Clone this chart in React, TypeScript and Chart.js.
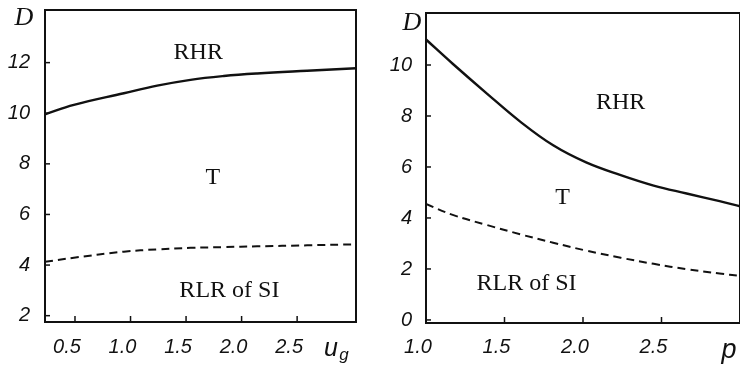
import React, { useEffect, useRef } from 'react';
import { Chart, registerables } from 'chart.js';

Chart.register(...registerables);

// ---------- data: left panel (D vs u_g) ----------
const uG = [0.23, 0.49, 0.94, 1.24, 1.54, 1.84, 2.14, 2.59, 3.03];
const dUpperLeft = [9.96, 10.33, 10.79, 11.09, 11.32, 11.47, 11.57, 11.68, 11.78];
const dLowerLeft = [4.13, 4.29, 4.53, 4.62, 4.68, 4.71, 4.74, 4.78, 4.82];
const leftXTicks = [0.5, 1.0, 1.5, 2.0, 2.5];
const leftYTicks = [2, 4, 6, 8, 10, 12];

// ---------- data: right panel (D vs p) ----------
const pVals = [1.0, 1.17, 1.39, 1.6, 1.81, 2.02, 2.24, 2.45, 2.66, 2.87, 3.0];
const dUpperRight = [11.0, 10.05, 8.87, 7.78, 6.85, 6.18, 5.68, 5.27, 4.96, 4.66, 4.46];
const dLowerRight = [4.55, 4.12, 3.72, 3.36, 3.03, 2.72, 2.44, 2.2, 1.99, 1.82, 1.73];
const rightXTicks = [1.0, 1.5, 2.0, 2.5];
const rightYTicks = [0, 2, 4, 6, 8, 10];

// region labels (data coordinates)
const leftRegions = [
  { text: 'RHR', x: 1.61, y: 12.38 },
  { text: 'T', x: 1.74, y: 7.44 },
  { text: 'RLR of SI', x: 1.89, y: 2.98 },
];
const rightRegions = [
  { text: 'RHR', x: 2.24, y: 8.51 },
  { text: 'T', x: 1.87, y: 4.8 },
  { text: 'RLR of SI', x: 1.64, y: 1.41 },
];

const INK = '#111111';
const TICK_FONT = { family: 'Liberation Sans', size: 20, style: 'italic' as const };

type Region = { text: string; x: number; y: number };
type Extra = { text: string; dx: number; dy: number; font: string; from: 'lt' | 'rb' | 'lb' };

function makeDecor(regions: Region[], extras: Extra[]) {
  return {
    id: 'decor',
    afterDraw(chart: any) {
      const { ctx, chartArea: ca, scales } = chart;
      ctx.save();
      ctx.strokeStyle = INK;
      ctx.lineWidth = 2;
      ctx.strokeRect(ca.left, ca.top, ca.right - ca.left, ca.bottom - ca.top);
      ctx.lineWidth = 1.5;
      scales.x.ticks.forEach((t: any) => {
        const px = scales.x.getPixelForValue(t.value);
        ctx.beginPath();
        ctx.moveTo(px, ca.bottom);
        ctx.lineTo(px, ca.bottom - 6);
        ctx.stroke();
      });
      scales.y.ticks.forEach((t: any) => {
        const py = scales.y.getPixelForValue(t.value);
        ctx.beginPath();
        ctx.moveTo(ca.left, py);
        ctx.lineTo(ca.left + 5, py);
        ctx.stroke();
      });
      ctx.fillStyle = INK;
      ctx.textAlign = 'center';
      ctx.textBaseline = 'middle';
      ctx.font = '24px "Liberation Serif"';
      regions.forEach((r) => {
        ctx.fillText(r.text, scales.x.getPixelForValue(r.x), scales.y.getPixelForValue(r.y));
      });
      extras.forEach((e) => {
        ctx.font = e.font;
        let bx = ca.left, by = ca.top;
        if (e.from === 'rb') { bx = ca.right; by = ca.bottom; }
        if (e.from === 'lb') { bx = ca.left; by = ca.bottom; }
        ctx.fillText(e.text, bx + e.dx, by + e.dy);
      });
      ctx.restore();
    },
  };
}

function buildConfig(opts: {
  xs: number[]; upper: number[]; lower: number[];
  xMin: number; xMax: number; yMin: number; yMax: number;
  xTicks: number[]; yTicks: number[];
  padTop: number; padRight: number; yWidth: number; xHeight: number;
  yPad: number; xPad: number;
  regions: Region[]; extras: Extra[];
}) {
  const toPts = (ys: number[]) => opts.xs.map((x, i) => ({ x, y: ys[i] }));
  return {
    type: 'line' as const,
    data: {
      datasets: [
        {
          data: toPts(opts.upper),
          borderColor: INK,
          borderWidth: 2.4,
          pointRadius: 0,
          tension: 0.4,
          fill: false,
        },
        {
          data: toPts(opts.lower),
          borderColor: INK,
          borderWidth: 2,
          borderDash: [8, 5],
          pointRadius: 0,
          tension: 0.4,
          fill: false,
        },
      ],
    },
    options: {
      animation: false as const,
      responsive: false,
      events: [],
      layout: { padding: { top: opts.padTop, right: opts.padRight, left: 0, bottom: 0 } },
      plugins: { legend: { display: false }, tooltip: { enabled: false }, title: { display: false } },
      scales: {
        x: {
          type: 'linear' as const,
          min: opts.xMin,
          max: opts.xMax,
          grid: { display: false, drawTicks: false },
          border: { display: false },
          afterBuildTicks: (s: any) => { s.ticks = opts.xTicks.map((v) => ({ value: v })); },
          afterFit: (s: any) => {
            s.height = opts.xHeight;
            s.paddingLeft = 0; s.paddingRight = 0; s.paddingTop = 0; s.paddingBottom = 0;
          },
          ticks: {
            color: INK,
            font: TICK_FONT,
            padding: opts.xPad,
            labelOffset: -8,
            maxRotation: 0,
            callback: (v: any) => Number(v).toFixed(1),
          },
        },
        y: {
          type: 'linear' as const,
          min: opts.yMin,
          max: opts.yMax,
          grid: { display: false, drawTicks: false },
          border: { display: false },
          afterBuildTicks: (s: any) => { s.ticks = opts.yTicks.map((v) => ({ value: v })); },
          afterFit: (s: any) => {
            s.width = opts.yWidth;
            s.paddingLeft = 0; s.paddingRight = 0; s.paddingTop = 0; s.paddingBottom = 0;
          },
          ticks: {
            color: INK,
            font: TICK_FONT,
            padding: opts.yPad,
            callback: (v: any) => String(v),
          },
        },
      },
    },
    plugins: [makeDecor(opts.regions, opts.extras)],
  };
}

function Panel(props: { left: number; width: number; config: any }) {
  const ref = useRef<HTMLCanvasElement | null>(null);
  useEffect(() => {
    if (!ref.current) return;
    const chart = new Chart(ref.current, props.config);
    return () => chart.destroy();
  }, []);
  return (
    <canvas
      ref={ref}
      width={props.width}
      height={371}
      style={{ position: 'absolute', left: props.left, top: 0, width: props.width, height: 371 }}
    />
  );
}

export default function App() {
  const leftConfig = buildConfig({
    xs: uG, upper: dUpperLeft, lower: dLowerLeft,
    xMin: 0.23, xMax: 3.03, yMin: 1.75, yMax: 14.08,
    xTicks: leftXTicks, yTicks: leftYTicks,
    padTop: 10, padRight: 14, yWidth: 45, xHeight: 49,
    yPad: 15, xPad: 13,
    regions: leftRegions,
    extras: [
      { text: 'D', dx: -21, dy: 8, font: 'italic 26px "Liberation Serif"', from: 'lt' },
      { text: 'u', dx: -25, dy: 27, font: 'italic 25px "Liberation Sans"', from: 'rb' },
      { text: 'g', dx: -12, dy: 33, font: 'italic 17px "Liberation Sans"', from: 'rb' },
    ],
  });
  const rightConfig = buildConfig({
    xs: pVals, upper: dUpperRight, lower: dLowerRight,
    xMin: 1.0, xMax: 3.0, yMin: -0.12, yMax: 12.04,
    xTicks: rightXTicks, yTicks: rightYTicks,
    padTop: 13, padRight: 10, yWidth: 56, xHeight: 48,
    yPad: 14, xPad: 12,
    regions: rightRegions,
    extras: [
      { text: 'D', dx: -14, dy: 10, font: 'italic 26px "Liberation Serif"', from: 'lt' },
      { text: 'p', dx: -11, dy: 27, font: 'italic 27px "Liberation Sans"', from: 'rb' },
    ],
  });
  return (
    <div style={{ position: 'fixed', left: 0, top: 0, width: 740, height: 371, overflow: 'hidden', background: '#fff' }}>
      <Panel left={0} width={370} config={leftConfig} />
      <Panel left={370} width={380} config={rightConfig} />
    </div>
  );
}
